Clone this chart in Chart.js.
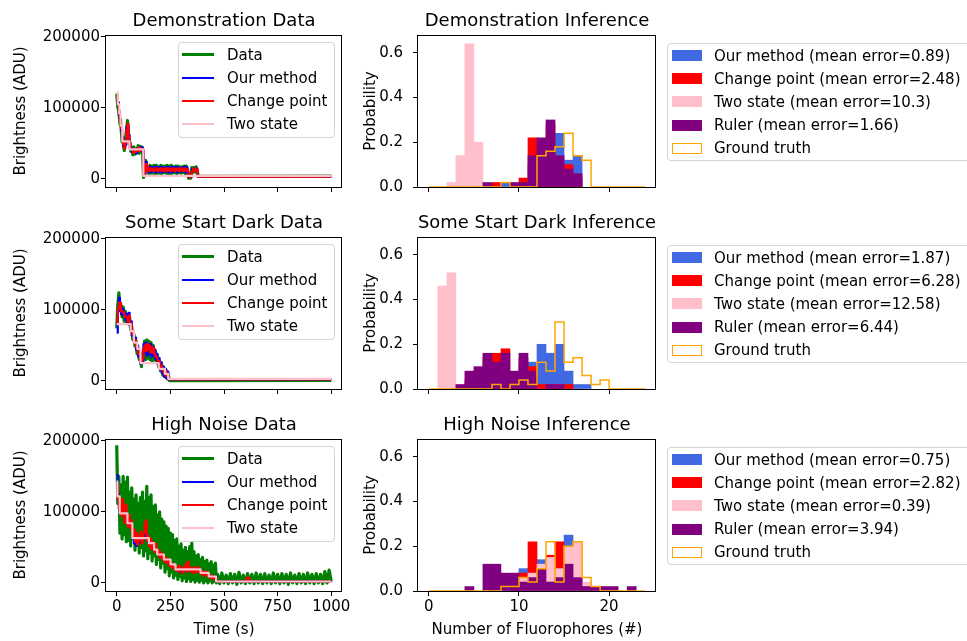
<!DOCTYPE html>
<html>
<head>
<meta charset="utf-8">
<script src="https://cdn.jsdelivr.net/npm/chart.js@4.4.1/dist/chart.umd.min.js"></script>
<style>
  body { margin: 0; width: 967px; height: 641px; overflow: hidden; position: relative; background: #fff; font-family: "DejaVu Sans", sans-serif; }
  canvas { position: absolute; }
  .leg { position: absolute; border: 1px solid #d4d4d4; border-radius: 4px; background: rgba(255,255,255,0.8); box-sizing: border-box; z-index: 5; }
  .leg .h { position: absolute; box-sizing: border-box; }
  .leg .t { position: absolute; font-size: 15px; line-height: 18px; height: 18px; white-space: nowrap; color: #000; }
</style>
</head>
<body>
<canvas id="trace1" width="360" height="193" style="left:0;top:0"></canvas>
<canvas id="trace2" width="360" height="193" style="left:0;top:202px"></canvas>
<canvas id="trace3" width="360" height="237" style="left:0;top:404px"></canvas>
<canvas id="hist1" width="320" height="193" style="left:356px;top:0"></canvas>
<canvas id="hist2" width="320" height="193" style="left:356px;top:202px"></canvas>
<canvas id="hist3" width="320" height="237" style="left:356px;top:404px"></canvas>
<script>
// Fluorophore counting: brightness traces (left) and count histograms (right)

Chart.defaults.font.family = "'DejaVu Sans', sans-serif";
Chart.defaults.color = '#000';

// sample times (s)
const tA = [0,5,10,15,20,25,30,35,40,45,50,55,60,65,70,75,80,85,90,95,100,105,110,115,120,125,130,135,140,145,
  150,155,160,165,170,175,180,185,190,195,200,205,210,215,220,225,230,235,240,245,250,255,260,265,270,275,280,285,290,295,
  300,305,310,315,320,325,330,335,340,345,350,355,360,365,370,375,380,385,390,395,400,405,410,415,420,425,430,435,440,445,
  450,455,460,465];
const tB = [470,480,490,500,510,520,530,540,550,560,570,580,590,600,610,620,630,640,650,660,670,680,690,700,710,720,730,740,
  750,760,770,780,790,800,810,820,830,840,850,860,870,880,890,900,910,920,930,940,950,960,970,980,990,1000];
const timeTicks = [0, 250, 500, 750, 1000];
const brightTicks = [0, 100000, 200000];

// Demonstration data (ADU), t = 0..375 s
const demoData = [120000,101000,96000,77000,74000,52000,52000,40000,55000,66000,82000,55000,53000,39000,44000,34000,45000,35000,42000,37000,47000,36000,46000,39000,44000,
  2000,13000,26000,13000,17000,
  7000,19000,8000,18000,8000,19000,7000,19000,8000,17000,8000,19000,7000,18000,9000,18000,8000,19000,7000,18000,7000,19000,8000,17000,9000,18000,7000,18000,9000,17000,8000,17000,9000,18000,7000,18000,7000,
  1000,6000,1000,16000,9000,16000,10000,17000,8000];
const demoOurs = [114000,108000,90000,84000,68000,59000,46000,46000,48000,73000,75000,62000,47000,45000,38000,40000,39000,41000,36000,43000,41000,42000,40000,45000,38000,
  8000,7000,24000,15000,15000,
  9000,17000,10000,16000,11000,17000,9000,17000,10000,16000,10000,17000,9000,16000,11000,16000,10000,17000,9000,16000,9000,17000,10000,16000,11000,17000,9000,16000,11000,16000,10000,16000,11000,17000,9000,16000,9000,
  3000,4000,3000,14000,11000,14000,12000,15000,10000];
const demoChange = [117000,105000,93000,81000,71000,56000,49000,43000,51000,69000,78000,59000,50000,42000,41000,37000,42000,38000,39000,40000,44000,39000,43000,42000,41000,
  5000,10000,21000,18000,12000,
  11000,15000,12000,14000,11000,15000,12000,15000,11000,14000,12000,15000,11000,14000,12000,15000,11000,15000,12000,14000,11000,15000,12000,14000,11000,15000,12000,14000,11000,15000,12000,14000,11000,15000,12000,14000,11000,
  5000,2000,6000,11000,14000,11000,15000,12000,13000];
const demoTailT = [378, 1000];
const demoDataTail = [3700, 3900];
const demoOursTail = [3500, 3500];
const demoChangeTail = [3300, 3300];
const demoTwoT = [0, 5, 12, 18, 26, 59, 124, 1000];
const demoTwo = [122000, 105000, 92000, 75000, 53000, 41700, 4200, 4200];

// Some Start Dark data (ADU), t = 0..240 s
const sdData = [74000,106000,124000,100000,106000,90000,104000,84000,98000,82000,92000,84000,90000,72000,76000,58000,66000,49000,56000,38000,46000,30000,36000,20000,40000,
  36000,56000,30000,58000,32000,56000,30000,54000,28000,50000,30000,
  42000,26000,36000,20000,28000,14000,23000,8000,18000,6000,15000,3000,10000];
const sdOurs = [68000,98000,117000,110000,94000,102000,92000,96000,86000,94000,80000,96000,78000,84000,64000,70000,54000,61000,44000,50000,34000,42000,24000,32000,28000,
  52000,40000,54000,36000,50000,38000,52000,34000,48000,36000,44000,
  30000,38000,24000,32000,16000,26000,11000,20000,6000,17000,4000,13000,2000];
const sdChange = [80000,102000,110000,110000,98000,98000,96000,92000,90000,90000,84000,92000,82000,80000,68000,66000,58000,57000,48000,46000,38000,38000,28000,28000,32000,
  46000,50000,42000,52000,44000,50000,40000,48000,40000,46000,38000,
  34000,34000,28000,28000,20000,22000,15000,16000,10000,14000,7000,10000,3000];
const sdTailT = [245, 1000];
const sdDataTail = [500, 700];
const sdOursTail = [2000, 2000];
const sdChangeTail = [2200, 2200];
const sdTwoT = [0, 65, 80, 96, 111, 196, 225, 240, 1000];
const sdTwo = [80000, 70000, 54000, 45000, 25000, 17000, 10000, 3000, 3000];

// High Noise data (ADU), t = 0..465 s, then 470..1000 s
const hnData = [194000,112000,150000,70000,138000,62000,150000,68000,142000,58000,
  149000,60000,128000,52000,134000,66000,118000,46000,124000,55000,
  112000,42000,120000,50000,128000,38000,115000,45000,136000,34000,
  120000,42000,124000,31000,108000,38000,110000,26000,96000,33000,
  100000,21000,90000,28000,86000,15000,80000,20000,77000,10000,
  70000,15000,68000,7000,60000,11000,62000,5000,52000,9000,
  55000,3000,46000,7000,50000,2000,44000,6000,51000,2000,
  56000,5000,44000,1000,38000,4000,40000,1000,33000,4000,
  36000,0,30000,3000,32000,0,27000,3000,30000,0,
  25000,2000,28000,0];
const hnDataTail = [12000,-1000,14000,0,11000,-1000,13000,0,12000,-2000,15000,0,11000,-1000,13000,0,12000,-1000,14000,0,
  12000,-1000,13000,0,11000,-1000,14000,0,12000,-1000,13000,0,12000,-2000,14000,0,11000,-1000,13000,0,
  12000,-1000,14000,0,12000,-1000,13000,0,12000,-1000,16000,0,18000,2000];
const hnOurs = [152000,125000,110000,100000,104000,98000,96000,92000,100000,94000,
  84000,86000,82000,80000,74000,62000,56000,60000,52000,58000,
  56000,64000,58000,60000,64000,62000,66000,70000,62000,58000,
  56000,54000,52000,54000,48000,46000,48000,44000,42000,40000,
  38000,36000,38000,34000,32000,30000,32000,30000,28000,26000,
  27000,24000,22000,22000,20000,20000,18000,22000,16000,20000,
  18000,20000,17000,19000,18000,20000,17000,19000,18000,20000,
  18000,19000,17000,18000,19000,18000,20000,17000,18000,14000,
  15000,13000,14000,13000,14000,12000,9000,8000,9000,8000,
  9000,8000,9000,2000];
const hnChange = [140000,118000,105000,112000,95000,118000,100000,85000,110000,92000,
  80000,95000,78000,88000,72000,66000,75000,58000,70000,54000,
  66000,60000,72000,56000,62000,70000,82000,88000,60000,66000,
  52000,62000,48000,58000,50000,44000,55000,42000,40000,46000,
  36000,42000,34000,38000,30000,36000,28000,34000,30000,24000,
  28000,22000,26000,20000,24000,18000,22000,16000,24000,18000,
  20000,14000,22000,18000,26000,16000,30000,18000,22000,16000,
  20000,14000,22000,17000,20000,15000,22000,16000,18000,12000,
  16000,10000,14000,12000,16000,10000,11000,7000,10000,6000,
  9000,7000,8000,2000];
const hnOursTailT = [470, 1000];
const hnOursTail = [2000, 2000];
const hnChangeTailT = [470, 600, 605, 615, 620, 1000];
const hnChangeTail = [2000, 2000, 7000, 7000, 2000, 2000];
const hnTwoT = [0, 3, 14, 50, 73, 150, 174, 189, 220, 251, 274, 391, 429, 463, 1000];
const hnTwo = [143000, 122000, 98000, 84000, 63000, 56000, 47000, 40000, 33000, 26000, 19000, 14000, 9000, 2000, 2000];

// histogram bins (left edges, number of fluorophores)
const bins = [0,1,2,3,4,5,6,7,8,9,10,11,12,13,14,15,16,17,18,19,20,21,22,23];
const countTicks = [0, 10, 20];
const probTicks = [0, 0.2, 0.4, 0.6];

const demoOursH   = [0,0,0,0,0,0,0,0,0.02,0,0,0.10,0.18,0.20,0.24,0.12,0.14,0,0,0,0,0,0,0];
const demoChangeH = [0,0,0,0,0,0,0,0.02,0,0,0.04,0.22,0.20,0.28,0.10,0.10,0.04,0,0,0,0,0,0,0];
const demoTwoH    = [0,0,0.02,0.14,0.64,0.20,0,0,0,0,0,0,0,0,0,0,0,0,0,0,0,0,0,0];
const demoRulerH  = [0,0,0,0,0,0,0.02,0,0,0.02,0.02,0.14,0.22,0.30,0.14,0.08,0.06,0,0,0,0,0,0,0];
const demoTruthH  = [0,0,0,0,0,0,0,0,0.02,0,0,0,0.14,0.16,0.18,0.24,0.14,0.12,0,0,0,0,0,0];

const sdOursH   = [0,0,0,0,0,0,0,0,0.02,0.06,0.12,0.12,0.20,0.16,0.20,0.08,0.02,0.02,0,0,0,0,0,0];
const sdChangeH = [0,0,0,0,0.04,0.08,0.14,0.16,0.18,0.06,0.14,0.10,0.02,0.02,0.02,0.02,0,0,0,0,0,0,0,0];
const sdTwoH    = [0,0.46,0.52,0.02,0,0,0,0,0,0,0,0,0,0,0,0,0,0,0,0,0,0,0,0];
const sdRulerH  = [0,0,0,0.02,0.08,0.10,0.16,0.12,0.16,0.08,0.16,0.08,0,0.02,0.02,0,0,0,0,0,0,0,0,0];
const sdTruthH  = [0,0,0,0,0,0,0,0.02,0,0.02,0.04,0.02,0.12,0.08,0.30,0.12,0.14,0.06,0.02,0.04,0,0,0,0];

const hnOursH   = [0,0,0,0,0,0,0,0,0,0,0.10,0.10,0.14,0.12,0.14,0.25,0.12,0.02,0,0,0,0,0,0];
const hnChangeH = [0,0,0,0,0,0,0,0,0,0.04,0.08,0.22,0.10,0.16,0.22,0.10,0.08,0,0,0,0,0,0,0];
const hnTwoH    = [0,0,0,0,0,0,0,0,0,0,0.06,0.08,0.12,0.15,0.10,0.20,0.22,0.04,0.02,0,0,0,0,0];
const hnRulerH  = [0,0,0,0,0.02,0,0.12,0.12,0.08,0.08,0.04,0.06,0.10,0.04,0.06,0.12,0.06,0.02,0.02,0.02,0.02,0,0.02,0];
const hnTruthH  = [0,0,0,0,0,0,0,0,0.02,0.02,0.06,0.04,0.10,0.22,0.04,0.20,0.22,0.06,0.02,0,0,0,0,0];

const pts = (ts, vs) => vs.map((v, i) => ({ x: ts[i], y: v }));

// matplotlib-like box around the axes
const frame = {
  id: 'frame',
  afterDraw(chart) {
    const a = chart.chartArea, ctx = chart.ctx;
    ctx.save();
    ctx.strokeStyle = '#000';
    ctx.lineWidth = 1;
    ctx.strokeRect(Math.round(a.left) - 0.5, Math.round(a.top) + 0.5, Math.round(a.right - a.left), Math.round(a.bottom - a.top));
    ctx.restore();
  }
};

// fixed axis sizes, no automatic label padding
function noPad(s) { s.paddingTop = 0; s.paddingBottom = 0; s.paddingLeft = 0; s.paddingRight = 0; }

function axisX(min, max, ticks, title) {
  return {
    type: 'linear', min, max, offset: false,
    afterBuildTicks: s => { s.ticks = ticks.map(v => ({ value: v })); },
    afterFit: s => { s.height = title ? 50 : 6; noPad(s); },
    ticks: { display: !!title, font: { size: 15 }, color: '#000', padding: 2, maxRotation: 0, autoSkip: false, callback: v => String(v) },
    grid: { drawOnChartArea: false, drawTicks: true, tickLength: 5, color: '#000', lineWidth: 1, offset: false },
    border: { display: false },
    title: { display: !!title, text: title || '', font: { size: 15 }, color: '#000', padding: { top: 0, bottom: 2 } }
  };
}

function axisY(min, max, ticks, title, width, titlePad, tickPad, fmt) {
  return {
    type: 'linear', min, max,
    afterBuildTicks: s => { s.ticks = ticks.map(v => ({ value: v })); },
    afterFit: s => { s.width = width; noPad(s); },
    ticks: { font: { size: 15 }, color: '#000', padding: tickPad, callback: fmt },
    grid: { drawOnChartArea: false, tickLength: 5, color: '#000', lineWidth: 1 },
    border: { display: false },
    title: { display: true, text: title, font: { size: 15 }, color: '#000', padding: { top: titlePad, bottom: 0 } }
  };
}

function titleOpts(text) {
  return { display: true, text, fullSize: false, color: '#000', font: { size: 18, weight: 'normal' }, padding: { top: 10.5, bottom: 2.9 } };
}

function traceChart(id, title, data, ours, change, two, bottom) {
  const common = { pointRadius: 0, fill: false, borderJoinStyle: 'round' };
  new Chart(document.getElementById(id), {
    type: 'line',
    data: {
      datasets: [
        { ...common, label: 'Data', data, borderColor: 'green', borderWidth: 3.2, order: 4 },
        { ...common, label: 'Our method', data: ours, borderColor: 'blue', borderWidth: 2.2, stepped: true, order: 3 },
        { ...common, label: 'Change point', data: change, borderColor: 'red', borderWidth: 2.2, stepped: true, order: 2 },
        { ...common, label: 'Two state', data: two, borderColor: 'pink', borderWidth: 2.2, stepped: true, order: 1 }
      ]
    },
    options: {
      responsive: false, animation: false, events: [],
      layout: { padding: { left: 0, right: 18, top: 0, bottom: 0 }, autoPadding: false },
      plugins: { legend: { display: false }, tooltip: { enabled: false }, title: titleOpts(title) },
      scales: {
        x: axisX(-50, 1050, timeTicks, bottom ? 'Time (s)' : null),
        y: axisY(-11400, 202700, brightTicks, 'Brightness (ADU)', 106, 12.5, 1, v => String(v))
      }
    },
    plugins: [frame]
  });
}

function histChart(id, title, ours, change, two, ruler, truth, bottom) {
  const bar = (label, vals, color, order) => ({
    type: 'bar', label, order, backgroundColor: color, borderWidth: 0, grouped: false,
    barPercentage: 1, categoryPercentage: 1,
    data: vals.map((v, i) => ({ x: bins[i] + 0.5, y: v || null }))
  });
  const last = bins[bins.length - 1] + 1;
  const outline = [{ x: bins[0], y: 0 }]
    .concat(truth.map((v, i) => ({ x: bins[i], y: v })))
    .concat([{ x: last, y: truth[truth.length - 1] }, { x: last, y: 0 }]);
  new Chart(document.getElementById(id), {
    type: 'bar',
    data: {
      datasets: [
        bar('Our method', ours, 'royalblue', 5),
        bar('Change point', change, 'red', 4),
        bar('Two state', two, 'pink', 3),
        bar('Ruler', ruler, 'purple', 2),
        { type: 'line', label: 'Ground truth', data: outline, borderColor: 'orange', borderWidth: 1.5,
          stepped: true, pointRadius: 0, fill: false, order: 1, clip: false }
      ]
    },
    options: {
      responsive: false, animation: false, events: [],
      layout: { padding: { left: 0, right: 20, top: 0, bottom: 0 }, autoPadding: false },
      plugins: { legend: { display: false }, tooltip: { enabled: false }, title: titleOpts(title) },
      scales: {
        x: axisX(-1.2, 25.2, countTicks, bottom ? 'Number of Fluorophores (#)' : null),
        y: axisY(0, 0.68, probTicks, 'Probability', 62, 6, 10, v => v.toFixed(1))
      }
    },
    plugins: [frame]
  });
}

traceChart('trace1', 'Demonstration Data',
  pts(tA, demoData).concat(pts(demoTailT, demoDataTail)),
  pts(tA, demoOurs).concat(pts(demoTailT, demoOursTail)),
  pts(tA, demoChange).concat(pts(demoTailT, demoChangeTail)),
  pts(demoTwoT, demoTwo), false);
traceChart('trace2', 'Some Start Dark Data',
  pts(tA, sdData).concat(pts(sdTailT, sdDataTail)),
  pts(tA, sdOurs).concat(pts(sdTailT, sdOursTail)),
  pts(tA, sdChange).concat(pts(sdTailT, sdChangeTail)),
  pts(sdTwoT, sdTwo), false);
traceChart('trace3', 'High Noise Data',
  pts(tA, hnData).concat(pts(tB, hnDataTail)),
  pts(tA, hnOurs).concat(pts(hnOursTailT, hnOursTail)),
  pts(tA, hnChange).concat(pts(hnChangeTailT, hnChangeTail)),
  pts(hnTwoT, hnTwo), true);

histChart('hist1', 'Demonstration Inference', demoOursH, demoChangeH, demoTwoH, demoRulerH, demoTruthH, false);
histChart('hist2', 'Some Start Dark Inference', sdOursH, sdChangeH, sdTwoH, sdRulerH, sdTruthH, false);
histChart('hist3', 'High Noise Inference', hnOursH, hnChangeH, hnTwoH, hnRulerH, hnTruthH, true);

// legends (HTML, matplotlib style)
function legend(left, top, w, h, items, lineStyle) {
  const box = document.createElement('div');
  box.className = 'leg';
  box.style.cssText = `left:${left}px;top:${top}px;width:${w}px;height:${h}px`;
  items.forEach((it, i) => {
    const cy = 11.5 + 23.2 * i;
    const hd = document.createElement('div');
    hd.className = 'h';
    if (lineStyle) {
      hd.style.cssText = `left:3px;width:32px;top:${cy - it.lw / 2}px;height:${it.lw}px;background:${it.color}`;
    } else if (it.outline) {
      hd.style.cssText = `left:4px;width:30px;top:${cy - 5.5}px;height:11px;background:#fff;border:1.5px solid ${it.color}`;
    } else {
      hd.style.cssText = `left:4px;width:30px;top:${cy - 5.5}px;height:11px;background:${it.color}`;
    }
    const tx = document.createElement('div');
    tx.className = 't';
    tx.textContent = it.label;
    tx.style.left = (lineStyle ? 48 : 46) + 'px';
    tx.style.top = (cy - 9) + 'px';
    box.appendChild(hd);
    box.appendChild(tx);
  });
  document.body.appendChild(box);
}

const traceItems = [
  { label: 'Data', color: 'green', lw: 3 },
  { label: 'Our method', color: 'blue', lw: 2 },
  { label: 'Change point', color: 'red', lw: 2 },
  { label: 'Two state', color: 'pink', lw: 2 }
];
[35, 237, 439].forEach(top => legend(178, top + 7, 157, 96, traceItems, true));

const errs = [
  ['0.89', '2.48', '10.3', '1.66'],
  ['1.87', '6.28', '12.58', '6.44'],
  ['0.75', '2.82', '0.39', '3.94']
];
[35, 237, 439].forEach((top, r) => legend(667, top + 8, 310, 118, [
  { label: `Our method (mean error=${errs[r][0]})`, color: 'royalblue' },
  { label: `Change point (mean error=${errs[r][1]})`, color: 'red' },
  { label: `Two state (mean error=${errs[r][2]})`, color: 'pink' },
  { label: `Ruler (mean error=${errs[r][3]})`, color: 'purple' },
  { label: 'Ground truth', color: 'orange', outline: true }
], false));
</script>
</body>
</html>
